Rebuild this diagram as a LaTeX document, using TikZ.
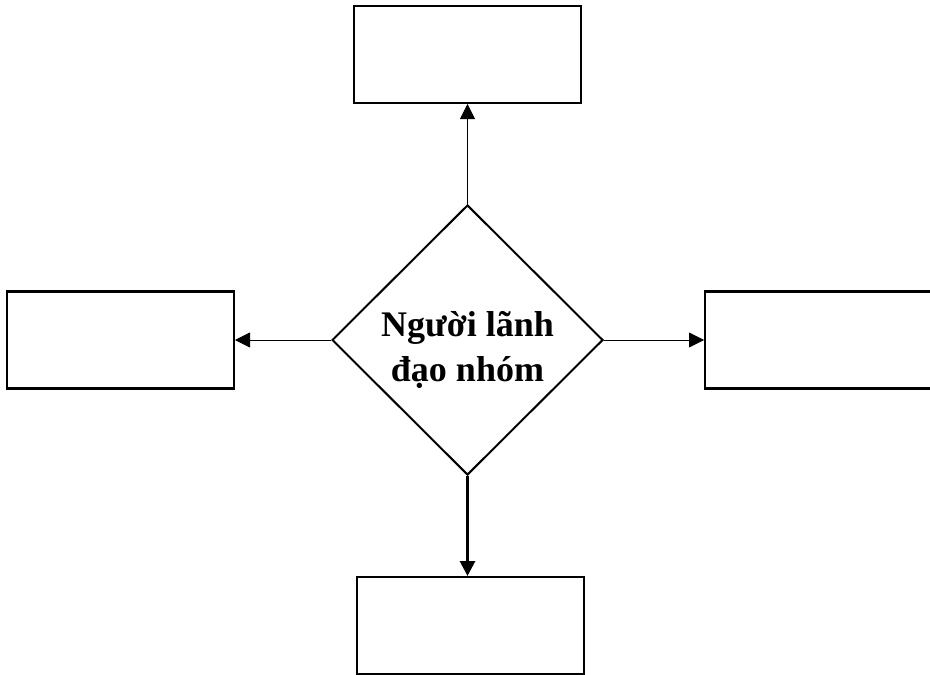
\documentclass[tikz,border=0pt]{standalone}
\usepackage{fontspec}
\setmainfont{Liberation Serif}
\usepackage{tikz}
\usetikzlibrary{shapes,arrows.meta,positioning}
\tikzset{
    -{Triangle[length=7.5pt,width=7.5pt]},auto,node distance =50pt and 50pt,line width=0.7pt,
    box/.style ={rectangle, draw, line width=1.2pt, minimum width = 113.5pt, minimum height = 48.5pt},
    leader/.style ={diamond, draw, line width=1pt, inner sep=0pt, minimum width = 135.5pt, minimum height = 135pt},
    el/.style = {align=center, font=\bfseries\fontsize{18}{22.5}\selectfont}
}
\begin{document}
\begin{tikzpicture}
	\useasboundingbox (0,0) rectangle (465pt,-337pt);
    \node[leader] (lead) at (233.75pt,-170pt) {};
    \node[el] (name) at ([yshift=-5pt]lead.center) {Người lãnh\\đạo nhóm};
	\node[box] (top) [above = of lead] {};
	\node[box] (left) [left = 48pt of lead] {};
	\node[box] (right) [right = of lead] {};
	\node[box] (bottom) [below = of lead, xshift=1.5pt] {};

	\path (lead) edge (top);
	\path (lead) edge (left);
	\path (lead) edge (right);
	\path (lead) edge[line width=1.4pt] (lead |- bottom.north);

\end{tikzpicture}
\end{document}
